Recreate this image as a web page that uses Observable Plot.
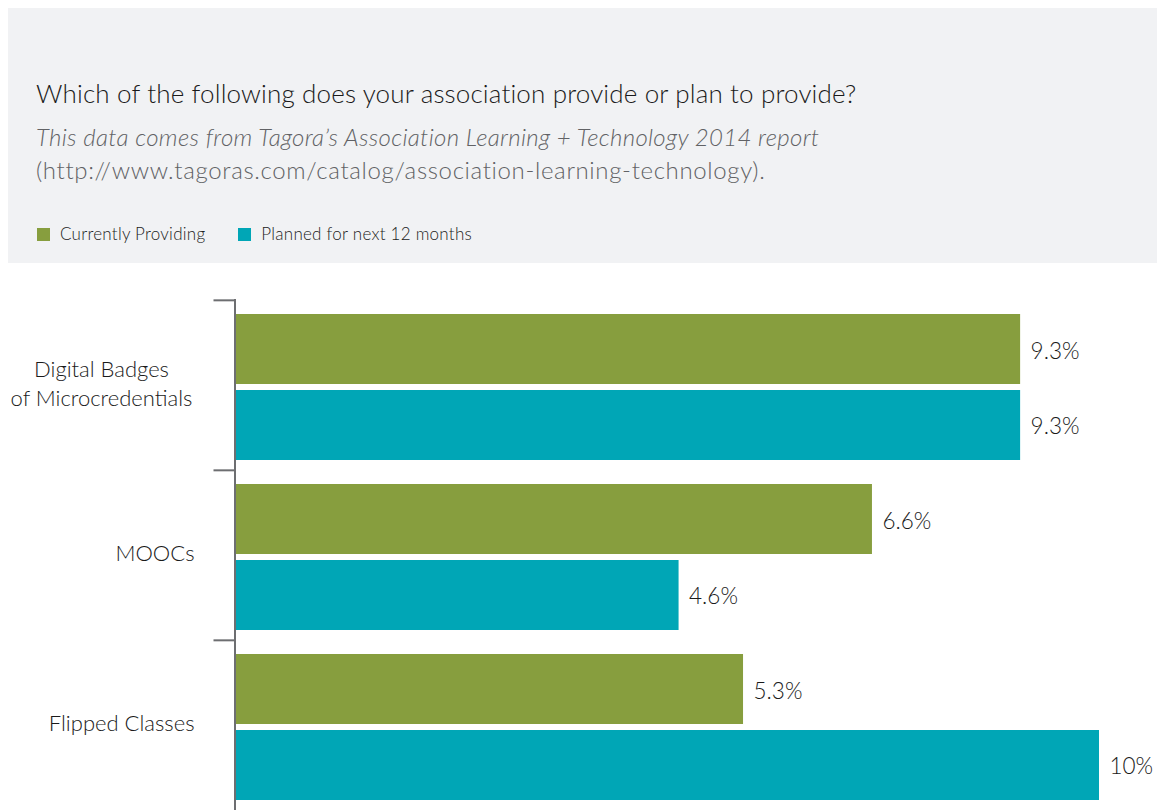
<!DOCTYPE html>
<html><head><meta charset="utf-8">
<script src="https://cdn.jsdelivr.net/npm/d3@7"></script>
<script src="https://cdn.jsdelivr.net/npm/@observablehq/plot@0.6"></script>
<style>
body{margin:0;background:#fff;font-family:Lato,sans-serif;width:1157px;height:810px;overflow:hidden;position:relative}
#hdr{position:absolute;left:8px;top:8px;width:1149px;height:255px;background:#f1f2f4}
.t{position:absolute;white-space:nowrap;margin:0}
#title{left:36px;top:77px;font-size:26px;line-height:32px;color:#1a1a1a;font-weight:300;letter-spacing:0.15px}
#sub1{left:36px;top:122px;font-size:24px;line-height:30px;color:#616265;font-style:italic;font-weight:300;letter-spacing:0.33px}
#sub2{left:36px;top:155px;font-size:24px;line-height:30px;color:#616265;font-weight:300;letter-spacing:0.65px}
#legend{left:37px;top:224px;font-size:17px;line-height:20px;color:#222;font-weight:300;letter-spacing:0.25px;display:flex;align-items:center}
.sw{display:inline-block;width:13px;height:13px;margin-right:10px}
.item{display:flex;align-items:center;margin-right:33px}
#chart{position:absolute;left:0;top:262px}
</style></head>
<body>
<div id="hdr"></div>
<h1 class="t" id="title">Which of the following does your association provide or plan to provide?</h1>
<div class="t" id="sub1">This data comes from Tagora’s Association Learning + Technology 2014 report</div>
<div class="t" id="sub2">(http://www.tagoras.com/catalog/association-learning-technology).</div>
<div class="t" id="legend"></div>
<div id="chart"></div>
<script>
const categories = ["Digital Badges\nof Microcredentials", "MOOCs", "Flipped Classes"];
const series = ["Currently Providing", "Planned for next 12 months"];
const colors = ["#879e3e", "#00a6b6"];
// bar lengths as drawn in the picture
const currentValues = [8.15, 6.61, 5.27];
const plannedValues = [8.15, 4.6, 8.97];
// value labels as printed
const currentLabels = ["9.3%", "6.6%", "5.3%"];
const plannedLabels = ["9.3%", "4.6%", "10%"];

const current = categories.map((c, i) => ({category: c, series: series[0], value: currentValues[i], label: currentLabels[i]}));
const planned = categories.map((c, i) => ({category: c, series: series[1], value: plannedValues[i], label: plannedLabels[i]}));

const legend = document.getElementById("legend");
series.forEach((s, i) => {
  const it = document.createElement("span");
  it.className = "item";
  it.innerHTML = `<span class="sw" style="background:${colors[i]}"></span>${s}`;
  legend.appendChild(it);
});

const multi = categories.filter(c => c.includes("\n"));
const single = categories.filter(c => !c.includes("\n"));

const chart = Plot.plot({
  width: 1157,
  height: 548,
  marginTop: 37,
  marginBottom: 0,
  marginLeft: 236,
  marginRight: 7,
  style: {fontFamily: "Lato, sans-serif", background: "transparent", overflow: "visible"},
  x: {domain: [0, 9.5], axis: null},
  y: {domain: categories, padding: 0, axis: null},
  marks: [
    Plot.barX(current, {y: "category", x: "value", fill: colors[0], insetTop: 14, insetBottom: 86}),
    Plot.barX(planned, {y: "category", x: "value", fill: colors[1], insetTop: 90, insetBottom: 10}),
    Plot.text(current, {y: "category", x: "value", text: "label", textAnchor: "start", dx: 10, dy: -34, fontSize: 22.5, fontWeight: 300, fill: "#1a1a1a"}),
    Plot.text(planned, {y: "category", x: "value", text: "label", textAnchor: "start", dx: 10, dy: 41, fontSize: 22.5, fontWeight: 300, fill: "#1a1a1a"}),
    Plot.text(multi, {y: d => d, text: d => d, frameAnchor: "left", textAnchor: "middle", dx: -135, dy: -3, lineHeight: 1.28, fontSize: 22, fontWeight: 300, fill: "#1a1a1a"}),
    Plot.text(single, {y: d => d, text: d => d, frameAnchor: "left", textAnchor: "end", dx: -42, dy: -2, fontSize: 22, fontWeight: 300, fill: "#1a1a1a"}),
    Plot.axisY({anchor: "left", label: null, tickSize: 21, tickFormat: () => "", dy: -85.17, dx: -1.5, stroke: "#6d6e71", strokeWidth: 2}),
    Plot.ruleX([0], {stroke: "#6d6e71", strokeWidth: 2, dx: -1.5})
  ]
});
document.getElementById("chart").appendChild(chart);
</script>
</body></html>
